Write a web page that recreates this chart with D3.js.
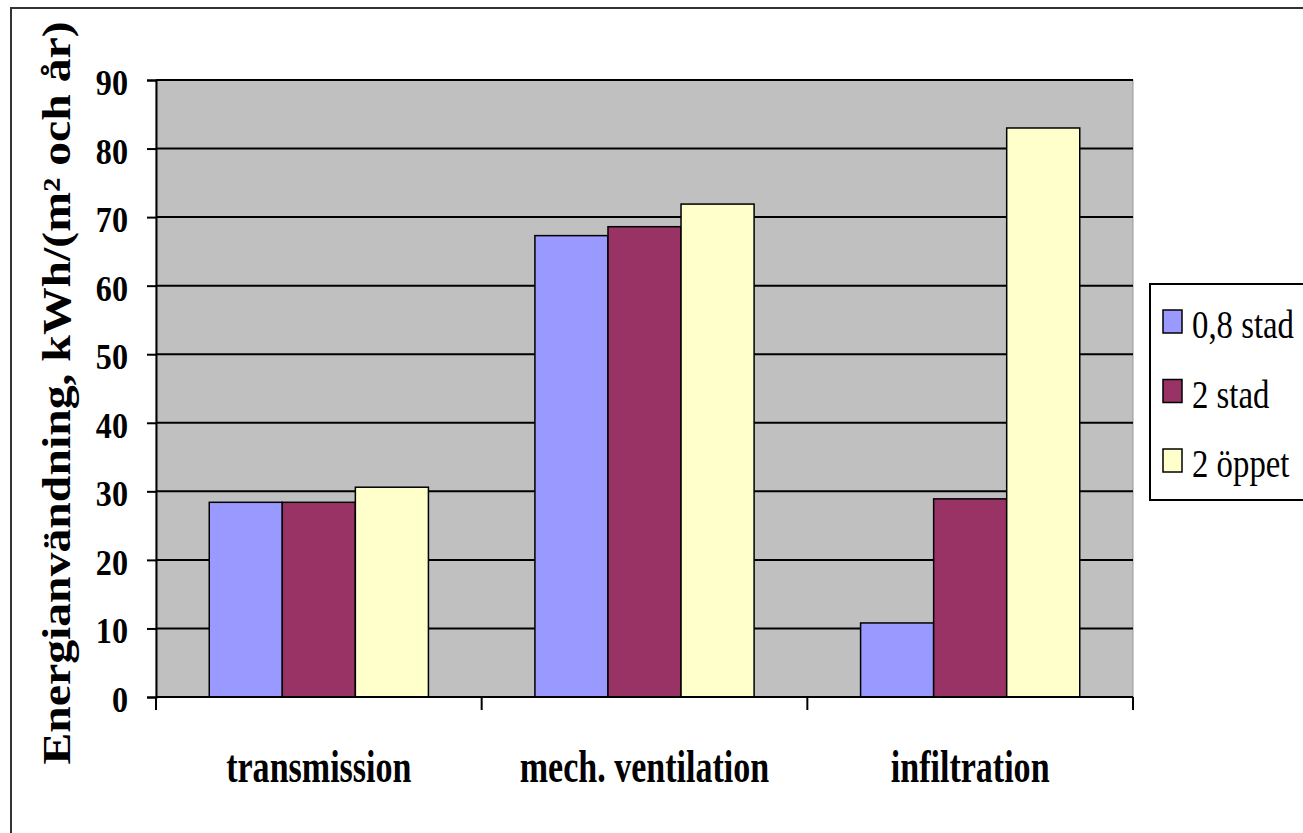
<!DOCTYPE html>
<html><head><meta charset="utf-8">
<script src="https://cdn.jsdelivr.net/npm/d3@7"></script>
<style>html,body{margin:0;padding:0;background:#fff;}svg{display:block;}</style>
</head><body>
<script>
const categories = ["transmission", "mech. ventilation", "infiltration"];
const seriesNames = ["0,8 stad", "2 stad", "2 öppet"];
const s08stad = [28.4, 67.3, 10.8];
const s2stad = [28.4, 68.6, 28.9];
const s2oppet = [30.6, 71.9, 83.0];
const yTicks = [0, 10, 20, 30, 40, 50, 60, 70, 80, 90];
const colors = ["#9999FF", "#993366", "#FFFFCC"];
const yTitle = "Energianvändning, kWh/(m² och år)";

const W = 1303, H = 833;
const svg = d3.select("body").append("svg").attr("width", W).attr("height", H);
const font = "'Liberation Serif','Times New Roman',serif";

// outer frame
svg.append("rect").attr("x", 11).attr("y", 8).attr("width", 1400).attr("height", 900)
  .attr("fill", "none").attr("stroke", "#333").attr("stroke-width", 2);

const L = 156, R = 1133, T = 80, B = 697;
const x0 = d3.scaleBand().domain(categories).range([L, R]).paddingInner(0.327).paddingOuter(0.1635);
const x1 = d3.scaleBand().domain(seriesNames).range([0, x0.bandwidth()]);
const y = d3.scaleLinear().domain([0, 90]).range([B, T]);

svg.append("rect").attr("x", L).attr("y", T).attr("width", R - L).attr("height", B - T)
  .attr("fill", "#C0C0C0").attr("stroke", "#999").attr("stroke-width", 1);

// gridlines
svg.append("g").selectAll("line").data(yTicks.filter(d => d > 0)).join("line")
  .attr("x1", L).attr("x2", R).attr("y1", d => y(d)).attr("y2", d => y(d))
  .attr("stroke", "#000").attr("stroke-width", 2);

// bars
const series = [s08stad, s2stad, s2oppet];
const g = svg.append("g");
categories.forEach((c, ci) => {
  series.forEach((s, si) => {
    g.append("rect")
      .attr("x", x0(c) + x1(seriesNames[si]))
      .attr("y", y(s[ci]))
      .attr("width", x1.bandwidth())
      .attr("height", y(0) - y(s[ci]))
      .attr("fill", colors[si]).attr("stroke", "#000").attr("stroke-width", 1.5);
  });
});

// y axis
const yAxis = d3.axisLeft(y).tickValues(yTicks).tickSize(9).tickFormat("");
const ya = svg.append("g").attr("transform", `translate(${L},0)`).call(yAxis);
ya.select(".domain").attr("stroke", "#000").attr("stroke-width", 2);
ya.selectAll(".tick line").attr("stroke", "#000").attr("stroke-width", 2);
svg.append("g").selectAll("text").data(yTicks).join("text")
  .attr("transform", d => `translate(128,${y(d) + 15}) scale(0.92,1)`)
  .attr("text-anchor", "end").attr("font-family", font).attr("font-weight", "bold")
  .attr("font-size", 35).attr("fill", "#000").text(d => d);

// x axis
const xa = svg.append("g").attr("transform", `translate(0,${B})`);
xa.append("line").attr("x1", L).attr("x2", R).attr("stroke", "#000").attr("stroke-width", 2);
const bounds = [L].concat(categories.map(c => x0(c) + x0.bandwidth() + x0.step() * 0.327 / 2));
xa.selectAll("line.t").data(bounds).join("line").attr("class", "t")
  .attr("x1", d => d).attr("x2", d => d).attr("y1", 0).attr("y2", 13)
  .attr("stroke", "#000").attr("stroke-width", 2);
xa.selectAll("text").data(categories).join("text")
  .attr("transform", d => `translate(${x0(d) + x0.bandwidth() / 2},85) scale(0.74,1)`)
  .attr("text-anchor", "middle").attr("font-family", font).attr("font-weight", "bold")
  .attr("font-size", 46).attr("fill", "#000").text(d => d);

// y title
svg.append("text").attr("transform", `translate(70,393) rotate(-90)`)
  .attr("text-anchor", "middle").attr("font-family", font).attr("font-weight", "bold")
  .attr("font-size", 40).attr("fill", "#000")
  .attr("textLength", 743).attr("lengthAdjust", "spacingAndGlyphs").text(yTitle);

// legend
const lg = svg.append("g");
lg.append("rect").attr("x", 1150).attr("y", 284).attr("width", 300).attr("height", 216)
  .attr("fill", "#fff").attr("stroke", "#000").attr("stroke-width", 2);
seriesNames.forEach((n, i) => {
  const by = 338 + i * 69.5;
  lg.append("rect").attr("x", 1163).attr("y", by - 28).attr("width", 19).attr("height", 23)
    .attr("fill", colors[i]).attr("stroke", "#000").attr("stroke-width", 1.5);
  lg.append("text").attr("transform", `translate(1192,${by}) scale(0.82,1)`).attr("font-family", font)
    .attr("font-size", 40).attr("fill", "#000").text(n);
});
</script>
</body></html>
